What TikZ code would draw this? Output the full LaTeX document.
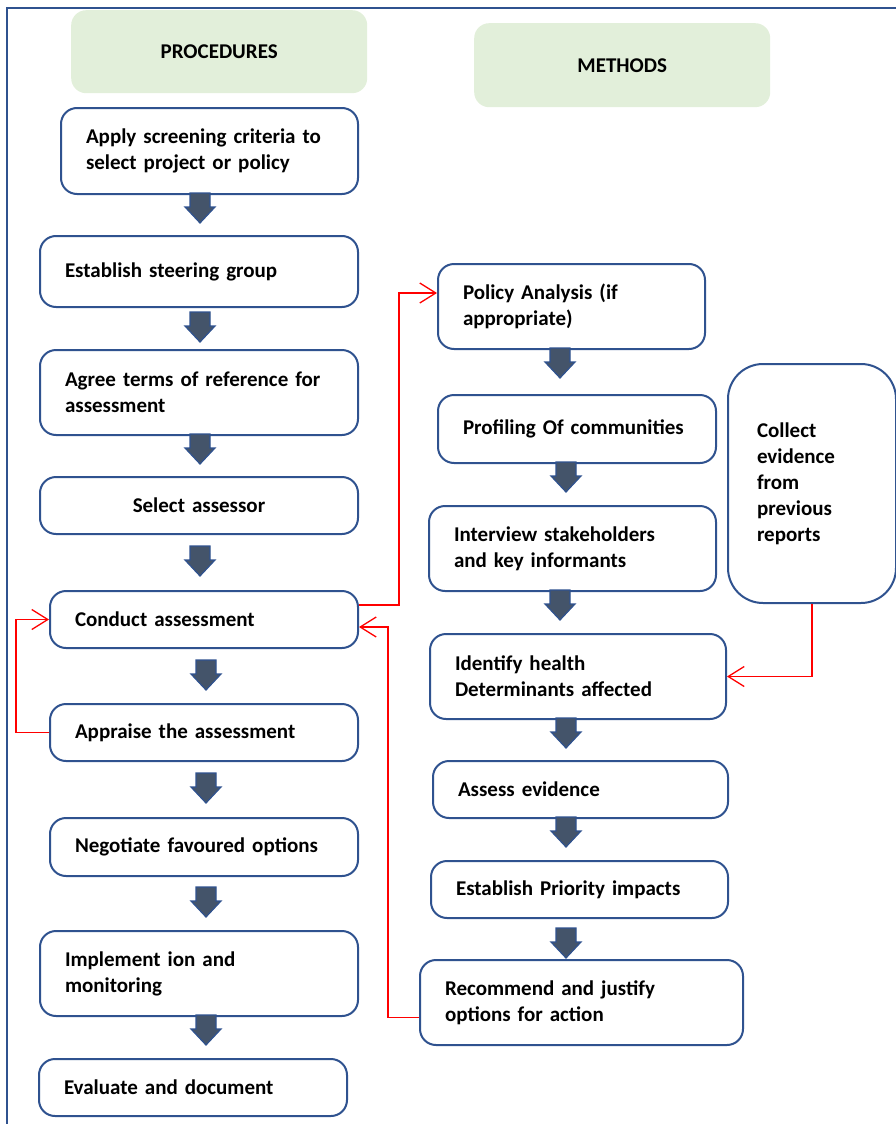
\documentclass[tikz,border=0pt]{standalone}
\usepackage{fontspec}
\setmainfont{Carlito}
\usetikzlibrary{arrows.meta,calc}
\definecolor{boxblue}{RGB}{47,82,143}
\definecolor{headgreen}{RGB}{226,239,218}
\definecolor{arrowfill}{RGB}{68,84,106}
\definecolor{linkred}{RGB}{255,0,0}
\begin{document}
\begin{tikzpicture}[x=1pt,y=-1pt,
  every node/.style={font=\bfseries\fontsize{21}{26}\selectfont},
  box/.style={draw=boxblue, line width=2pt, fill=white, rounded corners=16pt,
    align=left, inner xsep=25pt, inner ysep=0pt, anchor=north west},
  header/.style={fill=headgreen, rounded corners=15pt, minimum width=296pt,
    anchor=north west, align=center},
  blockarrow/.style={fill=arrowfill, draw=boxblue, line width=1.2pt, line join=miter},
  link/.style={draw=linkred, line width=1.3pt, -{Straight Barb[length=16pt,width=20pt,line width=1.3pt]}},
  bdown/.pic={\path[blockarrow] (-10,-15) -- (10,-15) -- (10,-1) -- (15,-1)
      -- (0,15) -- (-15,-1) -- (-10,-1) -- cycle;}
]
\useasboundingbox (0,0) rectangle (896,1124);

% page frame
\draw[boxblue, line width=2.5pt] (7,1130) -- (7,8) -- (900,8);

% column headings
\node[header, minimum height=83pt] (hproc) at (71,10) {PROCEDURES};
\node[header, minimum height=84pt] (hmeth) at (474,23) {METHODS};

% procedures column
\node[box, text width=247pt, minimum height=86pt] (b1) at (60,107)
  {Apply screening criteria to\\select project or policy};
\node[box, text width=268pt, minimum height=71pt] (b2) at (39,235)
  {Establish steering group};
\node[box, text width=268pt, minimum height=85pt] (b3) at (39,349)
  {Agree terms of reference for\\assessment};
\node[box, text width=268pt, minimum height=57pt, align=center] (b4) at (39,476)
  {Select assessor};
\node[box, text width=258pt, minimum height=57pt] (b5) at (49,590)
  {Conduct assessment};
\node[box, text width=258pt, minimum height=57pt] (b6) at (49,703)
  {Appraise the assessment};
\node[box, text width=258pt, minimum height=58pt] (b7) at (49,817)
  {Negotiate favoured options};
\node[box, text width=268pt, minimum height=85pt] (b8) at (39,930)
  {Implement ion and\\monitoring};
\node[box, text width=258pt, minimum height=57pt] (b9) at (38,1058)
  {Evaluate and document};

% methods column
\node[box, text width=217pt, minimum height=85pt] (r1) at (437,263)
  {Policy Analysis (if\\appropriate)};
\node[box, text width=228pt, minimum height=68pt] (r2) at (437,394)
  {Profiling Of communities};
\node[box, text width=237pt, minimum height=85pt] (r3) at (428,505)
  {Interview stakeholders\\and key informants};
\node[box, text width=110pt, inner xsep=29pt, minimum height=239pt,
  rounded corners=35pt] (c) at (727,363)
  {Collect\\evidence\\from\\previous\\reports};
\node[box, text width=246pt, minimum height=85pt] (r4) at (429,633)
  {Identify health\\Determinants affected};
\node[box, text width=245pt, minimum height=57pt] (r5) at (432,760)
  {Assess evidence};
\node[box, text width=247pt, minimum height=57pt] (r6) at (430,860)
  {Establish Priority impacts};
\node[box, text width=273pt, minimum height=85pt] (r7) at (419,959)
  {Recommend and justify\\options for action};

% block arrows between steps
\pic at (200,208) {bdown};
\pic at (200,327) {bdown};
\pic at (200,449) {bdown};
\pic at (200,561) {bdown};
\pic at (206,675) {bdown};
\pic at (206,788) {bdown};
\pic at (206,902) {bdown};
\pic at (206,1030) {bdown};
\pic at (560,363) {bdown};
\pic at (566,477) {bdown};
\pic at (560,605) {bdown};
\pic at (566,733) {bdown};
\pic at (566,832) {bdown};
\pic at (566,943) {bdown};

% feedback links
\draw[link] ([yshift=14.5pt]b5.east) -- ++(40,0) |- ([yshift=13.5pt]r1.west);
\draw[link] (b6.west) -- ++(-33,0) |- (b5.west);
\draw[link] ([yshift=-15pt]r7.west) -- ++(-31,0) |- ([yshift=-7.5pt]b5.east);
\draw[link] (c.south) |- (r4.east);
\end{tikzpicture}
\end{document}
